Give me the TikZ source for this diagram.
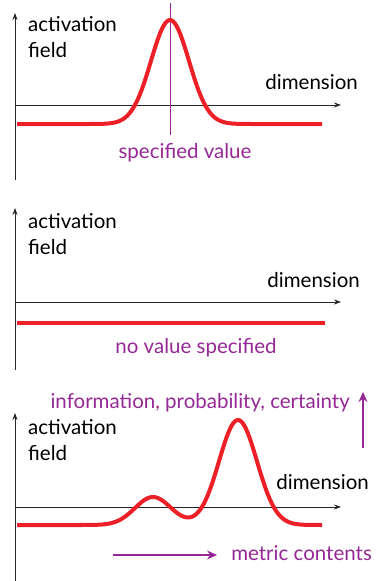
\documentclass[tikz,border=0pt]{standalone}
\usepackage{fontspec}
\setmainfont{Lato}
\usetikzlibrary{arrows.meta,positioning}
\definecolor{fieldred}{RGB}{236,32,38}
\definecolor{labelpurple}{RGB}{150,40,150}

\begin{document}
\begin{tikzpicture}[x=1pt, y=-1pt, >=Stealth,
  axis/.style={line width=0.8pt, black!85, -{Stealth[length=7pt, width=5pt]}},
  field/.style={line width=4pt, fieldred},
  label/.style={font=\fontsize{20.5}{26.5}\selectfont, inner sep=0pt, align=left},
  plabel/.style={label, text=labelpurple},
  parrow/.style={line width=1.3pt, labelpurple, -{Stealth[length=10pt, width=9pt]}}]
  \useasboundingbox (0,0) rectangle (375,581);

  % Panel 1: peak at a specified value
  \coordinate (o1) at (15,105);
  \draw[axis] (15,180) -- (15,13);
  \draw[axis] (o1) -- (341,105);
  \draw[line width=0.8pt, labelpurple] (170,3) -- (170,135);
  \draw[field] (17,124) -- (85,124) -- plot[domain=85:255, samples=90, smooth]
    (\x, {124-104*exp(-0.5*(((\x-170)/19)^2))}) -- (322,124);
  \node[label, anchor=west] (act1) at (28,37) {activation\\field};
  \node[label, anchor=east] (dim1) at (358,82) {dimension};
  \node[plabel] (spec) at (185,153) {specified value};

  % Panel 2: flat field
  \coordinate (o2) at (15,302);
  \draw[axis] (15,370) -- (15,208);
  \draw[axis] (o2) -- (341,302);
  \draw[field] (17,323) -- (325,323);
  \node[label, anchor=west] (act2) at (28,234) {activation\\field};
  \node[label, anchor=east] (dim2) at (360,280) {dimension};
  \node[plabel] (novalue) at (196,348) {no value specified};

  % Panel 3: two peaks
  \coordinate (o3) at (15,507);
  \draw[axis] (15,581) -- (15,413);
  \draw[axis] (o3) -- (341,507);
  \draw[field] (17,525) -- (80,525) -- plot[domain=80:322, samples=140, smooth]
    (\x, {525-28*exp(-0.5*(((\x-153)/18)^2))-105*exp(-0.5*(((\x-238)/19)^2))});
  \node[label, anchor=west] (act3) at (28,440) {activation\\field};
  \node[label, anchor=east] (dim3) at (369,482) {dimension};
  \node[plabel, anchor=east] (info) at (350,403) {information, probability, certainty};
  \coordinate (up0) at (363,448);
  \coordinate (up1) at (363,392);
  \draw[parrow] (up0) -- (up1);
  \node[plabel, anchor=east] (metric) at (372,553) {metric contents};
  \coordinate (m0) at (113,555);
  \coordinate (m1) at (217,555);
  \draw[parrow] (m0) -- (m1);
\end{tikzpicture}
\end{document}
